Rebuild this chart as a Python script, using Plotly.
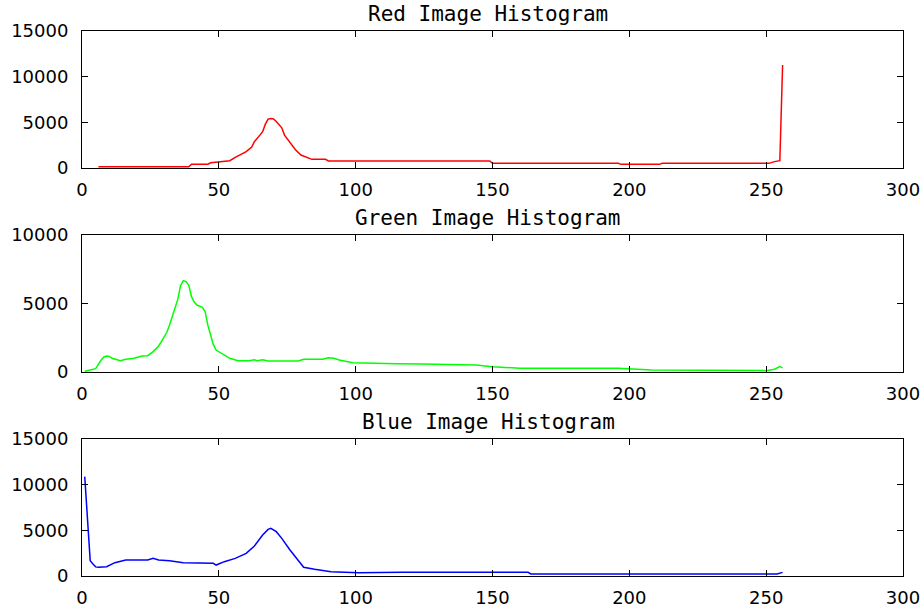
import plotly.graph_objects as go
from plotly.subplots import make_subplots

titles = ["Red Image Histogram", "Green Image Histogram", "Blue Image Histogram"]
colors = ["rgb(255,0,0)", "rgb(0,255,0)", "rgb(0,0,255)"]

red_x = [6, 39, 40, 46, 47, 52, 54, 56, 58, 60, 62, 63, 65, 66, 67, 68, 69, 70, 71, 72,
         73, 74, 75, 77, 78, 80, 82, 84, 89, 90, 149, 150, 196, 197, 211, 212, 251, 253,
         255, 256]
red_y = [140, 140, 400, 420, 580, 690, 800, 1170, 1450, 1790, 2300, 2880, 3600, 3980,
         4800, 5360, 5420, 5380, 5100, 4800, 4400, 3600, 3200, 2300, 2000, 1420, 1150,
         950, 950, 780, 780, 510, 510, 400, 400, 510, 510, 700, 800, 11280]

green_x = [1, 3, 5, 7, 8, 9, 10, 11, 12, 14, 16, 19, 22, 24, 26, 28, 29, 31, 32, 33, 34,
           35, 36, 37, 38, 39, 40, 41, 42, 44, 45, 46, 47, 48, 49, 50, 52, 54, 57, 61,
           63, 64, 66, 68, 79, 81, 88, 90, 92, 94, 99, 105, 115, 124, 144, 150, 160, 196,
           208, 250, 253, 255, 256]
green_y = [50, 150, 240, 876, 1100, 1168, 1140, 1000, 925, 827, 925, 1000, 1168, 1190,
           1490, 1900, 2220, 2900, 3430, 4000, 4600, 5300, 6300, 6660, 6600, 6350, 5500,
           5100, 4890, 4720, 4400, 3400, 2700, 2000, 1600, 1490, 1250, 1000, 827, 827,
           900, 827, 900, 800, 800, 925, 925, 1046, 1000, 876, 681, 633, 600, 584, 511,
           389, 267, 267, 146, 100, 200, 389, 300]

blue_x = [1, 2, 3, 4, 5, 6, 9, 12, 16, 24, 26, 28, 32, 37, 48, 49, 52, 56, 60, 63, 66,
          68, 69, 71, 73, 76, 79, 81, 85, 91, 101, 117, 163, 164, 254, 256]
blue_y = [10880, 6315, 1680, 1315, 1000, 950, 1020, 1460, 1750, 1750, 1930, 1750, 1680,
          1460, 1390, 1200, 1570, 1930, 2480, 3280, 4490, 5100, 5220, 4850, 4120, 2850,
          1750, 950, 730, 475, 365, 400, 400, 220, 220, 400]

series = [(red_x, red_y), (green_x, green_y), (blue_x, blue_y)]
y_ranges = [[0, 15000], [0, 10000], [0, 15000]]
x_range = [0, 300]
x_ticks = [0, 50, 100, 150, 200, 250, 300]

fig = make_subplots(rows=3, cols=1, vertical_spacing=0.1229)
tick_font = dict(family="DejaVu Sans", size=18, color="black")

for i, ((xs, ys), c) in enumerate(zip(series, colors)):
    r = i + 1
    fig.add_trace(go.Scatter(x=xs, y=ys, mode="lines", line=dict(color=c, width=1.5),
                             showlegend=False), row=r, col=1)
    fig.update_xaxes(range=x_range, tickvals=x_ticks, ticktext=[str(t) for t in x_ticks],
                     ticks="inside", ticklen=6,
                     tickcolor="black", tickwidth=1, showline=True, linecolor="black",
                     linewidth=1, mirror="ticks", showgrid=False, zeroline=False,
                     tickfont=tick_font, ticklabelstandoff=5, automargin=False,
                     row=r, col=1)
    ymax = y_ranges[i][1]
    yt = list(range(0, ymax + 1, 5000))
    fig.update_yaxes(range=y_ranges[i], tickvals=yt, ticktext=[str(t) for t in yt],
                     ticks="inside", ticklen=6, tickcolor="black", tickwidth=1,
                     showline=True, linecolor="black", linewidth=1, mirror="ticks",
                     showgrid=False, zeroline=False, tickfont=tick_font,
                     ticklabelstandoff=9, automargin=False, row=r, col=1)

domains = [[0.7486, 1.0], [0.3743, 0.6257], [0.0, 0.2514]]
for i, d in enumerate(domains):
    yname = "yaxis" if i == 0 else f"yaxis{i+1}"
    fig.layout[yname].domain = d
    fig.add_annotation(text=titles[i], xref="paper", yref="paper", x=0.495, y=d[1],
                       xanchor="center", yanchor="bottom", yshift=3, showarrow=False,
                       font=dict(family="DejaVu Sans Mono", size=21, color="black"))

fig.update_layout(width=924, height=611, margin=dict(l=82, r=21, t=31, b=35),
                  plot_bgcolor="white", paper_bgcolor="white")
fig.write_html("out.html")
